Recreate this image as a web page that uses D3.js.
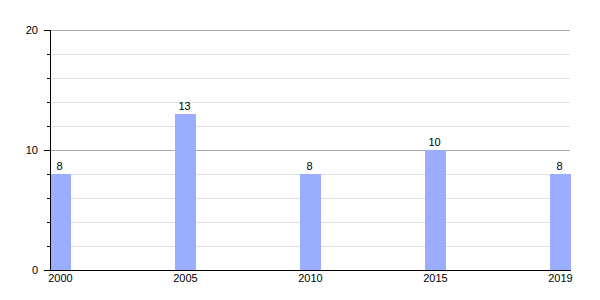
<!DOCTYPE html>
<html><head><meta charset="utf-8">
<script src="https://cdn.jsdelivr.net/npm/d3@7"></script>
<style>body{margin:0;background:#fff}svg{display:block;font-family:"Liberation Sans",Arial,sans-serif}</style>
</head><body><svg id="c" width="600" height="300"></svg>
<script>
const years = ["2000","2005","2010","2015","2019"];
const values = [8, 13, 8, 10, 8];
const majorTicks = [0, 10, 20];
const minorTicks = [2, 4, 6, 8, 12, 14, 16, 18];

(function () {
const svg = d3.select("#c");
const mLeft = 50, mRight = 571, mTop = 30, mBottom = 270, barW = 21;
const x = d3.scalePoint().domain(years).range([mLeft, mRight - barW]);
const y = d3.scaleLinear().domain([0, 20]).range([mBottom, mTop]);

// gridlines
svg.append("g").selectAll("line").data(minorTicks).join("line")
  .attr("x1", mLeft).attr("x2", mRight - 1)
  .attr("y1", d => Math.round(y(d)) + 0.5).attr("y2", d => Math.round(y(d)) + 0.5)
  .attr("stroke", "#e0e0e0");
svg.append("g").selectAll("line").data(majorTicks.filter(d => d > 0)).join("line")
  .attr("x1", mLeft).attr("x2", mRight - 1)
  .attr("y1", d => Math.round(y(d)) + 0.5).attr("y2", d => Math.round(y(d)) + 0.5)
  .attr("stroke", "#aaaaaa");

// bars
svg.append("g").selectAll("rect").data(values).join("rect")
  .attr("x", (d, i) => x(years[i])).attr("width", barW)
  .attr("y", d => y(d)).attr("height", d => mBottom - y(d))
  .attr("fill", "#9aadff");

// value labels
svg.append("g").selectAll("text").data(values).join("text")
  .attr("x", (d, i) => x(years[i]) + barW / 2 - 1).attr("y", d => y(d) - 4)
  .attr("text-anchor", "middle").attr("font-size", 11).attr("fill", "#000")
  .text(d => d);

// y axis
const ya = svg.append("g");
ya.append("line").attr("x1", mLeft + 0.5).attr("x2", mLeft + 0.5).attr("y1", mTop).attr("y2", mBottom)
  .attr("stroke", "#000");
ya.selectAll(".maj").data(majorTicks).join("line").attr("class", "maj")
  .attr("x1", mLeft - 6).attr("x2", mLeft)
  .attr("y1", d => Math.round(y(d)) + 0.5).attr("y2", d => Math.round(y(d)) + 0.5)
  .attr("stroke", "#000");
ya.selectAll(".min").data(minorTicks).join("line").attr("class", "min")
  .attr("x1", mLeft - 3).attr("x2", mLeft)
  .attr("y1", d => Math.round(y(d)) + 0.5).attr("y2", d => Math.round(y(d)) + 0.5)
  .attr("stroke", "#000");
ya.selectAll("text").data(majorTicks).join("text")
  .attr("x", mLeft - 12).attr("y", d => y(d) + 4)
  .attr("text-anchor", "end").attr("font-size", 11).attr("fill", "#000")
  .text(d => d);

// x axis
const xa = svg.append("g");
xa.append("line").attr("x1", mLeft).attr("x2", mRight).attr("y1", mBottom + 0.5).attr("y2", mBottom + 0.5)
  .attr("stroke", "#000");
xa.selectAll("text").data(years).join("text")
  .attr("x", d => x(d) + barW / 2).attr("y", mBottom + 12)
  .attr("text-anchor", "middle").attr("font-size", 11).attr("fill", "#000")
  .text(d => d);
})();
</script></body></html>
